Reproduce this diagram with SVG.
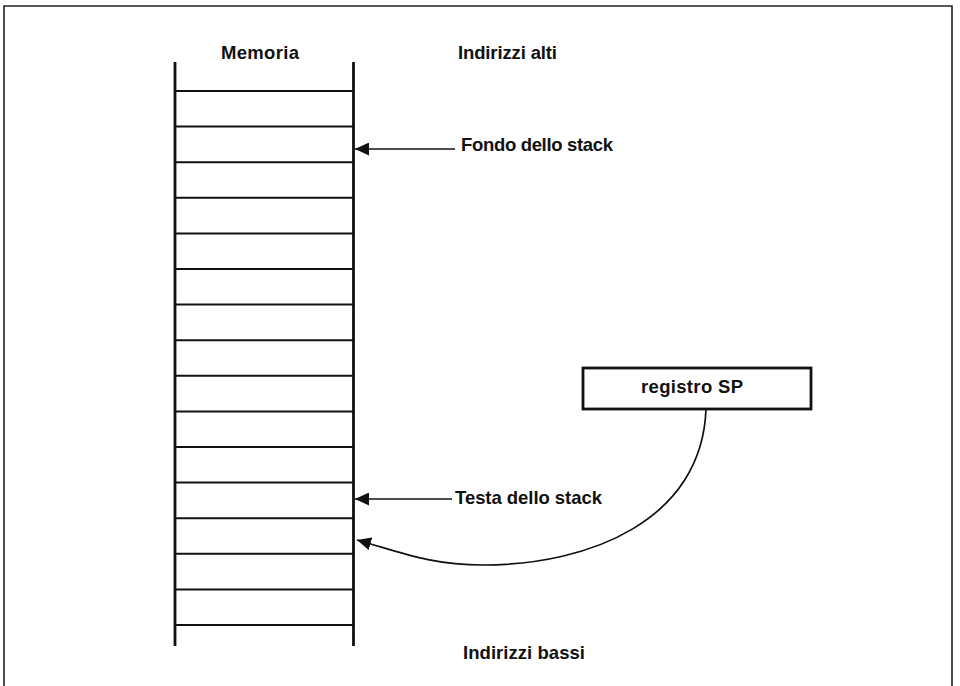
<svg xmlns="http://www.w3.org/2000/svg" width="960" height="686" viewBox="0 0 960 686">
<style>
.lbl{font-family:"Liberation Sans",Arial,Helvetica,sans-serif;font-size:18.5px;fill:#111;font-weight:bold}
.frame{fill:none;stroke:#222;stroke-width:1.6}
.wall{stroke:#111;stroke-width:2.8;fill:none}
.cell{stroke:#111;stroke-width:2;fill:none}
.conn{stroke:#111;stroke-width:1.7;fill:none}
.box{fill:#fff;stroke:#111;stroke-width:2.8}
</style>
<defs>
<marker id="ah" markerUnits="userSpaceOnUse" markerWidth="15" markerHeight="13" refX="14" refY="6.5" orient="auto">
<path d="M0,0 L14,6.5 L0,13 Z" fill="#111"/>
</marker>
</defs>
<rect width="960" height="686" fill="#fff"/>
<path class="frame" d="M4,690 L4,6 L952,6 L952,690"/>
<g id="memoria">
<line class="wall" x1="175" y1="62" x2="175" y2="646"/>
<line class="wall" x1="353.5" y1="62" x2="353.5" y2="646"/>
<g class="cell">
<line x1="175" y1="91" x2="353" y2="91"/>
<line x1="175" y1="126.6" x2="353" y2="126.6"/>
<line x1="175" y1="162.2" x2="353" y2="162.2"/>
<line x1="175" y1="197.8" x2="353" y2="197.8"/>
<line x1="175" y1="233.4" x2="353" y2="233.4"/>
<line x1="175" y1="269" x2="353" y2="269"/>
<line x1="175" y1="304.6" x2="353" y2="304.6"/>
<line x1="175" y1="340.2" x2="353" y2="340.2"/>
<line x1="175" y1="375.8" x2="353" y2="375.8"/>
<line x1="175" y1="411.4" x2="353" y2="411.4"/>
<line x1="175" y1="447" x2="353" y2="447"/>
<line x1="175" y1="482.6" x2="353" y2="482.6"/>
<line x1="175" y1="518.2" x2="353" y2="518.2"/>
<line x1="175" y1="553.8" x2="353" y2="553.8"/>
<line x1="175" y1="589.4" x2="353" y2="589.4"/>
<line x1="175" y1="625" x2="353" y2="625"/>
</g>
<text class="lbl" x="221" y="59" textLength="78" lengthAdjust="spacing">Memoria</text>
</g>
<g id="indirizzi-alti"><text class="lbl" x="458" y="59" textLength="99" lengthAdjust="spacing">Indirizzi alti</text></g>
<g id="fondo"><text class="lbl" x="461" y="151" textLength="152" lengthAdjust="spacing">Fondo dello stack</text></g>
<g id="testa"><text class="lbl" x="455" y="504" textLength="147" lengthAdjust="spacing">Testa dello stack</text></g>
<g id="registro-sp">
<rect class="box" x="583" y="368" width="228" height="41"/>
<text class="lbl" x="641" y="393" textLength="102" lengthAdjust="spacing">registro SP</text>
</g>
<g id="indirizzi-bassi"><text class="lbl" x="463" y="659" textLength="122" lengthAdjust="spacing">Indirizzi bassi</text></g>
<g id="connectors">
<line class="conn" x1="455" y1="149" x2="355" y2="149" marker-end="url(#ah)"/>
<line class="conn" x1="452" y1="499" x2="355" y2="499" marker-end="url(#ah)"/>
<path class="conn" d="M706,409 C702,520 590,565 483,565 C430,565 400,552 357,540" marker-end="url(#ah)"/>
</g>
</svg>
